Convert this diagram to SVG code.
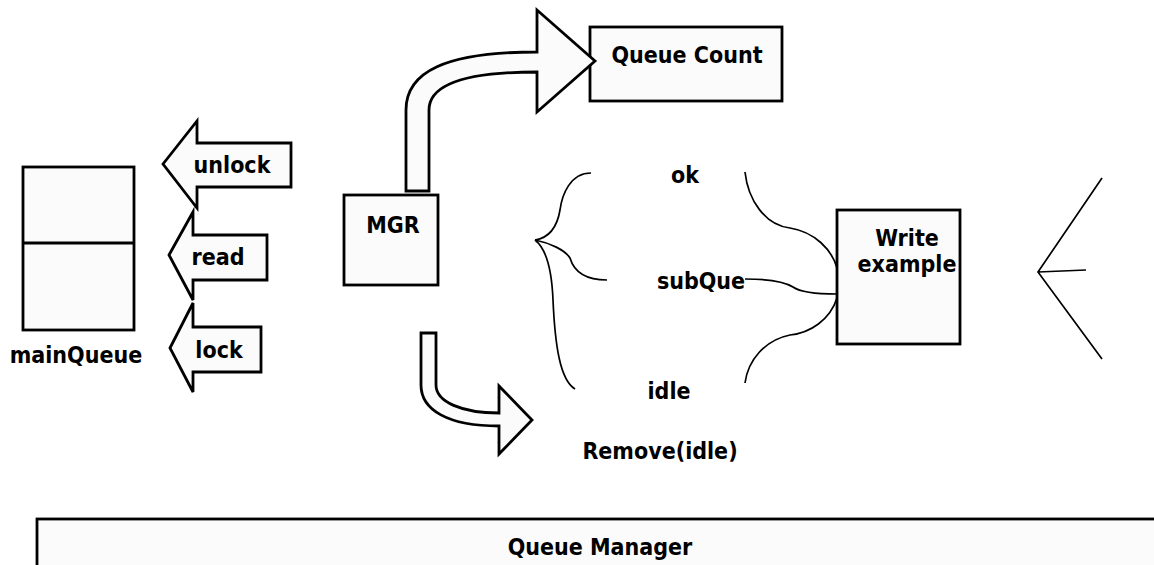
<svg xmlns="http://www.w3.org/2000/svg" width="1154" height="565" viewBox="0 0 1154 565">
<style>
.box{fill:#fbfbfb;stroke:#000;stroke-width:2.8}
.blk{fill:#fbfbfb;stroke:#000;stroke-width:2.8;stroke-linejoin:miter}
.ln{fill:none;stroke:#000;stroke-width:1.7}
text{font-family:"DejaVu Sans Condensed","DejaVu Sans",Verdana,sans-serif;font-stretch:condensed;font-weight:bold;font-size:23px;fill:#000}
</style>
<rect width="1154" height="565" fill="#fff"/>
<g id="mainQueue">
<rect class="box" x="23" y="167" width="111" height="163"/>
<line x1="23" y1="243" x2="134" y2="243" stroke="#000" stroke-width="2.8"/>
<text x="76" y="363" text-anchor="middle">mainQueue</text>
</g>
<g id="unlock">
<polygon class="blk" points="163,164 197,121 197,143 291,143 291,187 197,187 197,208"/>
<text x="232" y="173" text-anchor="middle">unlock</text>
</g>
<g id="read">
<polygon class="blk" points="169,255 193,212 193,235 267,235 267,280 193,280 193,300"/>
<text x="218" y="265" text-anchor="middle">read</text>
</g>
<g id="lock">
<polygon class="blk" points="170,348 193,303 193,327 261,327 261,372 193,372 193,392"/>
<text x="219" y="358" text-anchor="middle">lock</text>
</g>
<g id="mgr">
<rect class="box" x="344" y="195" width="94" height="90"/>
<text x="393" y="233" text-anchor="middle">MGR</text>
</g>
<g id="queueCount">
<rect class="box" x="590" y="27" width="192" height="74"/>
<text x="687" y="63" text-anchor="middle">Queue Count</text>
</g>
<g id="writeExample">
<rect class="box" x="837" y="210" width="123" height="134"/>
<text x="907" y="246" text-anchor="middle">Write</text>
<text x="907" y="272" text-anchor="middle">example</text>
</g>
<g id="labels">
<text x="685" y="183" text-anchor="middle">ok</text>
<text x="701" y="289" text-anchor="middle">subQue</text>
<text x="669" y="399" text-anchor="middle">idle</text>
<text x="660" y="459" text-anchor="middle">Remove(idle)</text>
</g>
<g id="queueManager">
<rect class="box" x="37" y="519" width="1130" height="60"/>
<text x="600" y="555" text-anchor="middle">Queue Manager</text>
</g>
<g id="connectors">
<path class="blk" d="M406,191 L406,110 C406,72 445,52 537,52 L537,10 L595,61 L537,112 L537,72 C468,72 429,84 429,110 L429,191 Z"/>
<path class="blk" d="M421,333 L436,333 L436,385 C436,402 462,413 499,413 L499,386 L532,420 L499,454 L499,426 C448,426 421,410 421,385 Z"/>
<path class="ln" d="M591,173 C570,173 562,195 560,210 C557,228 548,238 535,240"/>
<path class="ln" d="M535,240 C550,243 565,250 570,258 C575,275 590,280 607,280"/>
<path class="ln" d="M535,240 C548,250 552,275 553,300 C555,345 560,380 575,389"/>
<path class="ln" d="M745,172 C748,200 765,225 790,228 C815,232 832,250 837,268"/>
<path class="ln" d="M745,279 C770,279 785,282 793,287 C800,292 820,294 837,294"/>
<path class="ln" d="M837,298 C830,320 810,333 790,335 C765,340 748,360 745,383"/>
<path class="ln" d="M1102,178 L1038,272 L1102,359 M1038,272 L1086,270"/>
</g>
</svg>
